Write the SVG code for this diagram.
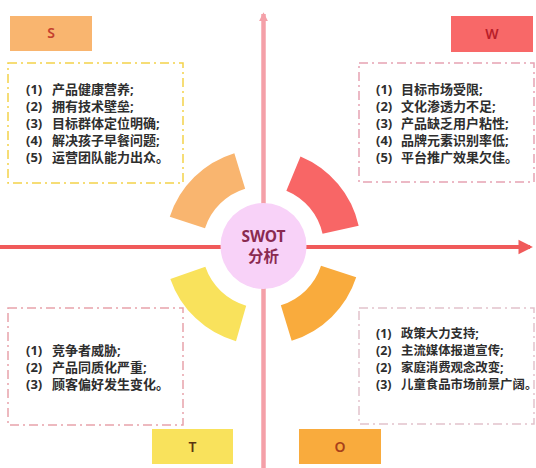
<svg xmlns="http://www.w3.org/2000/svg" xmlns:xlink="http://www.w3.org/1999/xlink" width="536" height="468" viewBox="0 0 536 468">
  <style>
    .body { font-family: "Noto Sans", "Noto Sans CJK SC", sans-serif; font-size: 13px; font-weight: 700; fill: #2e2e2e; }
    .small { font-size: 12.4px; }
    .tag { font-family: "Noto Sans", "Noto Sans CJK SC", sans-serif; font-size: 14px; font-weight: 600; text-anchor: middle; }
    .box { fill: #ffffff; stroke-width: 1.5; stroke-dasharray: 9 4 2 4; }
    .center { font-family: "Noto Sans", "Noto Sans CJK SC", sans-serif; font-size: 15.5px; font-weight: 700; fill: #8a2a50; text-anchor: middle; }
  </style>
  <defs>
    <path id="sec" d="M 86.93 -45.25 A 98 98 0 0 1 86.93 45.25 L 54.11 28.16 A 61 61 0 0 0 54.11 -28.16 Z"/>
    <marker id="arrRed" viewBox="0 0 10 10" refX="8" refY="5" markerWidth="3.6" markerHeight="4.4" orient="auto" markerUnits="strokeWidth">
      <path d="M0,0 L10,5 L0,10 Z" fill="#f05a5a"/>
    </marker>
    <marker id="arrPink" viewBox="0 0 10 10" refX="8" refY="5" markerWidth="2" markerHeight="3.6" orient="auto" markerUnits="strokeWidth">
      <path d="M0,0 L10,5 L0,10 Z" fill="#f4a0a8"/>
    </marker>
  </defs>
  <rect width="536" height="468" fill="#ffffff"/>

  <g id="connectors">
    <line x1="263.5" y1="468" x2="263.5" y2="14" stroke="#f4a0a8" stroke-width="4.5" marker-end="url(#arrPink)"/>
    <line x1="0" y1="247" x2="530" y2="247" stroke="#f05a5a" stroke-width="4" marker-end="url(#arrRed)"/>
  </g>

  <g id="sector-s"><use xlink:href="#sec" href="#sec" transform="translate(263,247) rotate(225.5)" fill="#f9b56f"/></g>
  <g id="sector-w"><use xlink:href="#sec" href="#sec" transform="translate(263,247) rotate(-40)" fill="#f86666"/></g>
  <g id="sector-t"><use xlink:href="#sec" href="#sec" transform="translate(263,247) rotate(133.5)" fill="#f9e25c"/></g>
  <g id="sector-o"><use xlink:href="#sec" href="#sec" transform="translate(263,247) rotate(45.5)" fill="#f9ab3d"/></g>

  <g id="center">
    <circle cx="263.5" cy="246" r="43" fill="#f8d2f8"/>
    <text class="center" x="263.5" y="242">SWOT</text>
    <text class="center" x="263.5" y="262">分析</text>
  </g>

  <g id="label-s">
    <rect x="10" y="16" width="82" height="35" fill="#f9b56f"/>
    <text class="tag" x="51" y="38" fill="#c4402e">S</text>
  </g>
  <g id="label-w">
    <rect x="451" y="16" width="82" height="36" fill="#f86868"/>
    <text class="tag" x="492" y="39" fill="#b81e2a">W</text>
  </g>
  <g id="label-t">
    <rect x="152" y="429" width="81" height="35" fill="#f9e25c"/>
    <text class="tag" x="192.5" y="452" fill="#5a3510">T</text>
  </g>
  <g id="label-o">
    <rect x="299" y="429" width="82" height="35" fill="#f9ab3d"/>
    <text class="tag" x="340" y="452" fill="#a8401a">O</text>
  </g>

  <g id="box-s">
    <rect class="box" x="8" y="63" width="175" height="120" stroke="#f3d24a"/>
    <text class="body"><tspan x="26" y="94">(1)</tspan><tspan x="52" y="94">产品健康营养;</tspan></text>
    <text class="body"><tspan x="26" y="111">(2)</tspan><tspan x="52" y="111">拥有技术壁垒;</tspan></text>
    <text class="body"><tspan x="26" y="128">(3)</tspan><tspan x="52" y="128">目标群体定位明确;</tspan></text>
    <text class="body"><tspan x="26" y="145">(4)</tspan><tspan x="52" y="145">解决孩子早餐问题;</tspan></text>
    <text class="body"><tspan x="26" y="162">(5)</tspan><tspan x="52" y="162">运营团队能力出众。</tspan></text>
  </g>

  <g id="box-w">
    <rect class="box" x="359" y="63" width="175" height="119" stroke="#e6a3b3"/>
    <text class="body"><tspan x="376" y="94">(1)</tspan><tspan x="401" y="94">目标市场受限;</tspan></text>
    <text class="body"><tspan x="376" y="111">(2)</tspan><tspan x="401" y="111">文化渗透力不足;</tspan></text>
    <text class="body"><tspan x="376" y="128">(3)</tspan><tspan x="401" y="128">产品缺乏用户粘性;</tspan></text>
    <text class="body"><tspan x="376" y="145">(4)</tspan><tspan x="401" y="145">品牌元素识别率低;</tspan></text>
    <text class="body"><tspan x="376" y="162">(5)</tspan><tspan x="401" y="162">平台推广效果欠佳。</tspan></text>
  </g>

  <g id="box-t">
    <rect class="box" x="8" y="308" width="175" height="117" stroke="#e8a2ab"/>
    <text class="body"><tspan x="26" y="355">(1)</tspan><tspan x="52" y="355">竞争者威胁;</tspan></text>
    <text class="body"><tspan x="26" y="372">(2)</tspan><tspan x="52" y="372">产品同质化严重;</tspan></text>
    <text class="body"><tspan x="26" y="389">(3)</tspan><tspan x="52" y="389">顾客偏好发生变化。</tspan></text>
  </g>

  <g id="box-o">
    <rect class="box" x="359" y="308" width="175" height="116" stroke="#e2c2cb"/>
    <text class="body small"><tspan x="376" y="338">(1)</tspan><tspan x="401" y="338">政策大力支持;</tspan></text>
    <text class="body small"><tspan x="376" y="355">(2)</tspan><tspan x="401" y="355">主流媒体报道宣传;</tspan></text>
    <text class="body small"><tspan x="376" y="372">(2)</tspan><tspan x="401" y="372">家庭消费观念改变;</tspan></text>
    <text class="body small"><tspan x="376" y="389">(3)</tspan><tspan x="401" y="389">儿童食品市场前景广阔。</tspan></text>
  </g>
</svg>
